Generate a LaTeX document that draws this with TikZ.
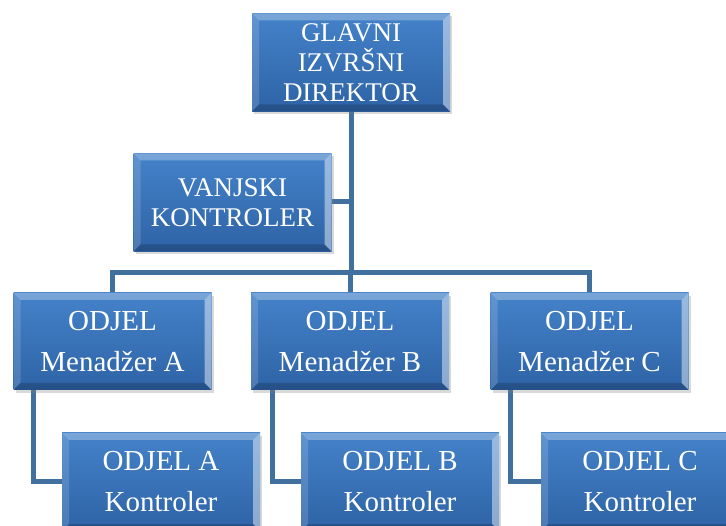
\documentclass[tikz,border=0pt]{standalone}
\usepackage{fontspec}
\setmainfont{Liberation Serif}
\usetikzlibrary{shadows}
\definecolor{boxtop}{HTML}{4482C9}
\definecolor{boxbot}{HTML}{2E63A6}
\definecolor{linkcol}{HTML}{41709F}
\tikzset{
  unit/.style={rectangle, minimum width=198pt, minimum height=98pt, inner sep=0pt,
    align=center, text=white, top color=boxtop, bottom color=boxbot,
    drop shadow={shadow xshift=2pt, shadow yshift=-3pt, opacity=0.3},
    path picture={
      \fill[white, opacity=0.28] (path picture bounding box.north west) -- (path picture bounding box.north east)
        -- ([shift={(-7pt,-7pt)}]path picture bounding box.north east) -- ([shift={(7pt,-7pt)}]path picture bounding box.north west) -- cycle;
      \fill[white, opacity=0.15] (path picture bounding box.north west) -- ([shift={(7pt,-7pt)}]path picture bounding box.north west)
        -- ([shift={(7pt,7pt)}]path picture bounding box.south west) -- (path picture bounding box.south west) -- cycle;
      \fill[white, opacity=0.45] (path picture bounding box.north east) -- ([shift={(-7pt,-7pt)}]path picture bounding box.north east)
        -- ([shift={(-7pt,7pt)}]path picture bounding box.south east) -- (path picture bounding box.south east) -- cycle;
      \fill[black, opacity=0.18] (path picture bounding box.south west) -- ([shift={(7pt,7pt)}]path picture bounding box.south west)
        -- ([shift={(-7pt,7pt)}]path picture bounding box.south east) -- (path picture bounding box.south east) -- cycle;
    }},
  head/.style={unit, font=\fontsize{27}{30}\selectfont},
  dept/.style={unit, minimum height=97pt, font=\fontsize{29}{41}\selectfont},
  link/.style={draw=linkcol, line width=5pt}
}
\begin{document}
\begin{tikzpicture}[x=1pt, y=-1pt]
  \useasboundingbox (0,0) rectangle (726,526);
  \begin{scope}[link]
    \coordinate (bus) at (351,273);
    \draw (351,62) -- (bus);
    \draw (112.5,341) |- (bus) -| (589.5,341);
    \draw (350,273) -- (350,341);
    \draw (232,202) -- (351,202);
    \draw (33.5,341) |- (161,482);
    \draw (272,341) |- (400,482);
    \draw (510,341) |- (640,482);
  \end{scope}
  \node[head] (ceo) at (351,62.5) {GLAVNI\\IZVRŠNI\\DIREKTOR};
  \node[head] (vk) at (232.5,202.5) {VANJSKI\\KONTROLER};
  \node[dept] (mA) at (112.5,341.5) {ODJEL\\Menadžer A};
  \node[dept] (mB) at (350,341.5) {ODJEL\\Menadžer B};
  \node[dept] (mC) at (589.5,341.5) {ODJEL\\Menadžer C};
  \node[dept, minimum height=98pt] (kA) at (161,482) {ODJEL A\\Kontroler};
  \node[dept, minimum height=98pt] (kB) at (400,482) {ODJEL B\\Kontroler};
  \node[dept, minimum height=98pt] (kC) at (640,482) {ODJEL C\\Kontroler};
\end{tikzpicture}
\end{document}
